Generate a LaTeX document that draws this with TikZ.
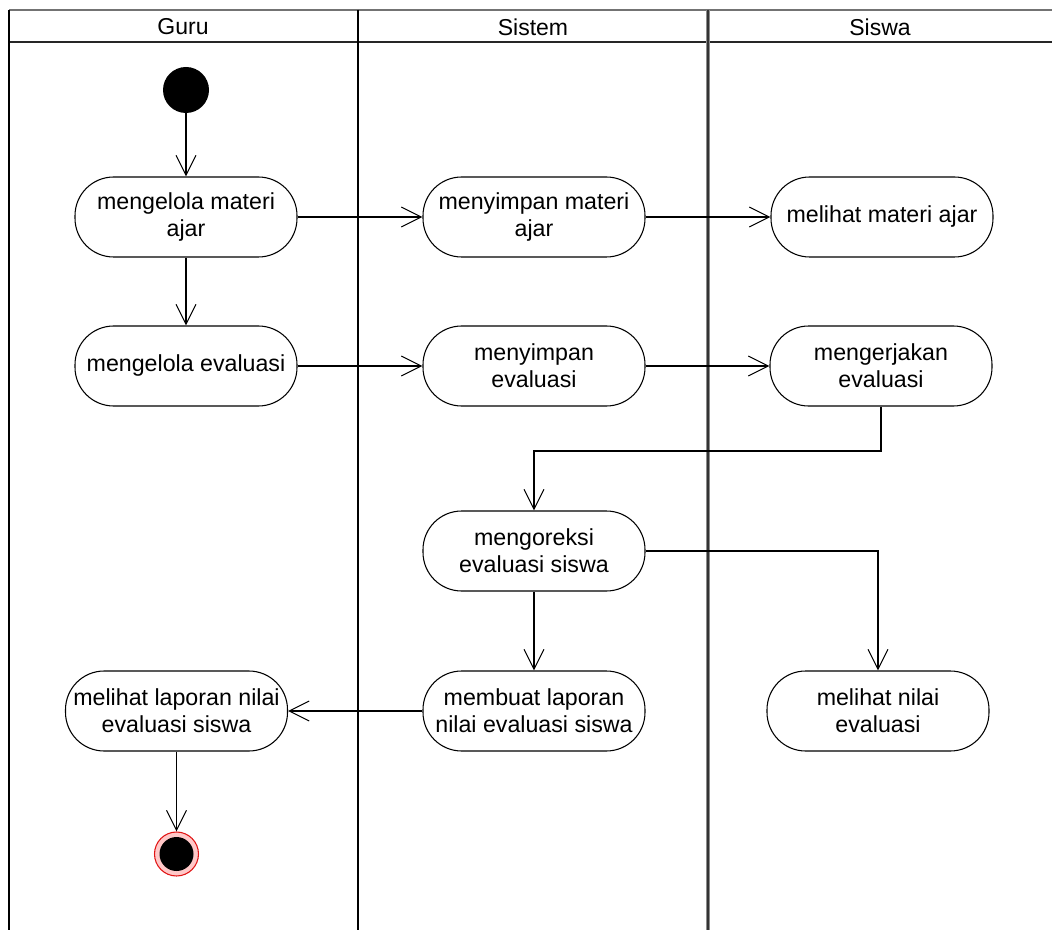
\documentclass[tikz,border=0pt]{standalone}
\usepackage{fontspec}
\setmainfont{Liberation Sans}
\usetikzlibrary{arrows.meta,positioning}
\definecolor{finfill}{RGB}{255,200,200}
\definecolor{finring}{RGB}{225,20,20}
\begin{document}
\begin{tikzpicture}[x=0.75pt,y=-0.75pt,
  act/.style={draw, line width=0.8pt, rounded corners=29pt, minimum width=166.5pt,
    minimum height=60pt, inner sep=0pt, align=center,
    font=\fontsize{17.4}{20.25}\selectfont},
  hdr/.style={font=\fontsize{17.25}{20.25}\selectfont, inner sep=0pt},
  flow/.style={draw, line width=0.8pt, -{Straight Barb[length=15pt,width=15pt,line width=0.8pt]}},
  lane/.style={line width=0.8pt}]
\useasboundingbox (0,0) rectangle (1052,930);
% swimlane frame
\draw[lane, draw=black!55] (9,10) -- (1052,10);
\draw[line width=1.4pt, draw=black!85] (9,42) -- (1052,42);
\draw[lane] (9,10) -- (9,930);
\draw[lane] (358,10) -- (358,930);
\draw[line width=2.4pt, draw=black!45] (708,10) -- (708,930);
\draw[line width=0.8pt, draw=black!80] (708,10) -- (708,930);
\node[hdr] (hguru) at (183,27) {Guru};
\node[hdr] (hsistem) at (533,27) {Sistem};
\node[hdr] (hsiswa) at (880,27) {Siswa};
% start
\node[circle, fill=black, minimum size=34.5pt, inner sep=0pt] (start) at (186,90) {};
% activities
\node[act] (a1) at (186,217) {mengelola materi\\ajar};
\node[act] (a2) at (534,217) {menyimpan materi\\ajar};
\node[act] (a3) at (882,217) {melihat materi ajar};
\node[act] (a4) at (186,366) {mengelola evaluasi};
\node[act] (a5) at (534,366) {menyimpan\\evaluasi};
\node[act] (a6) at (881,366) {mengerjakan\\evaluasi};
\node[act] (a7) at (534,551) {mengoreksi\\evaluasi siswa};
\node[act] (a8) at (534,711) {membuat laporan\\nilai evaluasi siswa};
\node[act] (a9) at (176.5,711) {melihat laporan nilai\\evaluasi siswa};
\node[act] (a10) at (878,711) {melihat nilai\\evaluasi};
% final
\node[circle, draw=finring, line width=0.8pt, fill=finfill, minimum size=33pt, inner sep=0pt] (fin) at (176.5,854) {};
\fill[black] (fin.center) circle (12.75pt);
\coordinate (k1) at (881,451);
% flows
\draw[flow] (start) -- (a1);
\draw[flow] (a1) -- (a2);
\draw[flow] (a2) -- (a3);
\draw[flow] (a1) -- (a4);
\draw[flow] (a4) -- (a5);
\draw[flow] (a5) -- (a6);
\draw[flow] (a6.south) -- (k1) -| (a7.north);
\draw[flow] (a7.east) -| (a10.north);
\draw[flow] (a7) -- (a8);
\draw[flow] (a8) -- (a9);
\draw[flow] (a9) -- (fin);
\end{tikzpicture}
\end{document}
